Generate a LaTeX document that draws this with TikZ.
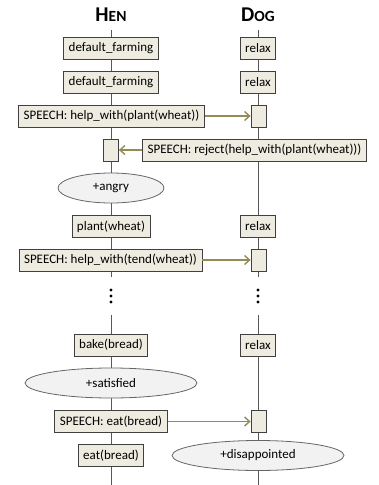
\documentclass[tikz,border=0pt]{standalone}
\usepackage{fontspec}
\setmainfont{Carlito}
\usepackage{tikz}
\usetikzlibrary{arrows.meta,shapes.geometric,positioning}

\definecolor{actfill}{HTML}{EEECE1}
\definecolor{actdraw}{HTML}{404040}
\definecolor{moodfill}{HTML}{F2F2F2}
\definecolor{speechline}{HTML}{948A54}
\definecolor{lifeline}{HTML}{595959}

\tikzset{
  act/.style={draw=actdraw, fill=actfill, line width=0.8pt, font=\fontsize{13}{13}\selectfont,
              minimum height=22pt, inner xsep=5pt, inner ysep=0pt},
  recv/.style={draw=actdraw, fill=actfill, line width=0.8pt, minimum width=15pt, minimum height=22pt,
               inner sep=0pt},
  mood/.style={ellipse, draw=actdraw!80, fill=moodfill, line width=0.8pt, font=\fontsize{13}{13}\selectfont,
               minimum height=30pt, inner sep=0pt},
  agent/.style={font=\bfseries},
  say/.style={-{Straight Barb[length=5pt,width=9pt,line width=1.4pt]}, draw=speechline, line width=1.4pt},
}

\begin{document}
\begin{tikzpicture}[x=1pt,y=-1pt]
\useasboundingbox (0,0) rectangle (379,485);

% agents
\node[agent] (hen) at (111,15) {{\fontsize{21}{21}\selectfont H}{\fontsize{15.5}{15.5}\selectfont EN}};
\node[agent] (dog) at (258,15) {{\fontsize{21}{21}\selectfont D}{\fontsize{15.5}{15.5}\selectfont OG}};

% lifelines, broken where time is skipped
\coordinate (h0) at (111,30);  \coordinate (h1) at (111,277);
\coordinate (h2) at (111,315); \coordinate (h3) at (111,485);
\coordinate (d0) at (258,30);  \coordinate (d1) at (258,277);
\coordinate (d2) at (258,315); \coordinate (d3) at (258,485);
\draw[lifeline, line width=0.9pt] (h0) -- (h1) (h2) -- (h3) (d0) -- (d1) (d2) -- (d3);
\foreach \y in {290,296,302} {
  \fill (111,\y) circle (1.6);
  \fill (258,\y) circle (1.6);
}

% hen
\node[act]  (H1) at (111,48.5)  {default\_farming};
\node[act]  (H2) at (111,82)    {default\_farming};
\node[act]  (H3) at (111.5,116) {SPEECH: help\_with(plant(wheat))};
\node[recv] (H4) at (111,150)   {};
\node[mood, minimum width=106pt] (H5) at (111,188) {+angry};
\node[act]  (H6) at (111,226.5) {plant(wheat)};
\node[act]  (H7) at (110.5,260) {SPEECH: help\_with(tend(wheat))};
\node[act]  (H8) at (111,345)   {bake(bread)};
\node[mood, minimum width=172pt] (H9) at (111,383) {+satisfied};
\node[act]  (H10) at (111,421.5) {SPEECH: eat(bread)};
\node[act]  (H11) at (111,455.5) {eat(bread)};

% dog
\node[act]  (D1) at (258,48.5)  {relax};
\node[act]  (D2) at (258,82)    {relax};
\node[recv] (D3) at (258.5,116) {};
\node[act]  (D4) at (254.5,150) {SPEECH: reject(help\_with(plant(wheat)))};
\node[act]  (D6) at (258,226.5) {relax};
\node[recv] (D7) at (258.5,260) {};
\node[act]  (D8) at (258,345)   {relax};
\node[recv] (D10) at (258.5,421.5) {};
\node[mood, minimum width=172pt] (D11) at (258,455.5) {+disappointed};

% speech acts
\path (H3)  edge[say] (D3)
      (D4)  edge[say] (H4)
      (H7)  edge[say] (D7)
      (H10) edge[say] (D10);

\end{tikzpicture}
\end{document}
